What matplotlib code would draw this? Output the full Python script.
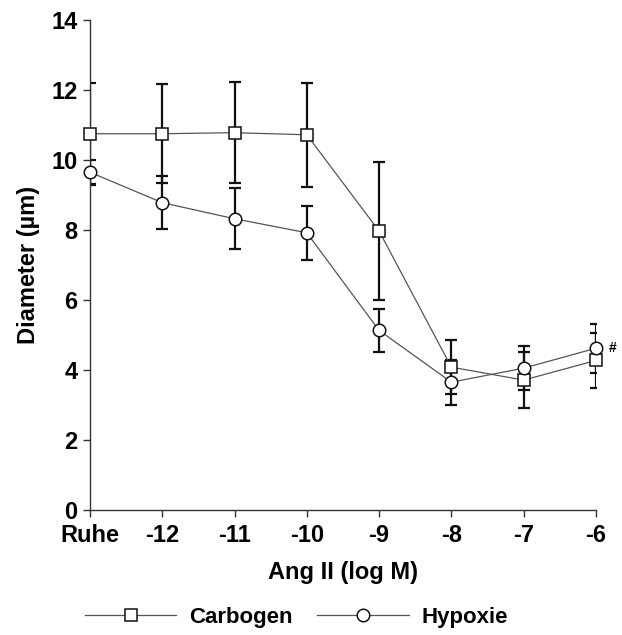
import matplotlib
matplotlib.use("Agg")
import matplotlib.pyplot as plt
from matplotlib.lines import Line2D

plt.rcParams['font.family'] = ['Liberation Sans', 'DejaVu Sans']
plt.rcParams['font.weight'] = 'bold'

# data
labels = ["Ruhe", "-12", "-11", "-10", "-9", "-8", "-7", "-6"]
carbogen = [10.75, 10.75, 10.78, 10.72, 7.97, 4.08, 3.71, 4.27]
carbogen_sd = [1.45, 1.42, 1.45, 1.48, 1.96, 0.78, 0.81, 0.79]
hypoxie = [9.65, 8.78, 8.32, 7.92, 5.13, 3.65, 4.05, 4.62]
hypoxie_sd = [0.36, 0.75, 0.87, 0.77, 0.62, 0.64, 0.62, 0.70]

x = list(range(len(labels)))

fig = plt.figure(figsize=(6.22, 6.35), dpi=100)
ax = fig.add_axes([0.1447, 0.197, 0.8133, 0.7715])

for vals, sd in [(carbogen, carbogen_sd), (hypoxie, hypoxie_sd)]:
    ax.errorbar(x, vals, yerr=sd, fmt='none', ecolor='#111111', elinewidth=1.6,
                capsize=4, capthick=1.6, zorder=2)

ax.plot(x, carbogen, '-', color='#555555', lw=0.9, zorder=3)
ax.plot(x, hypoxie, '-', color='#555555', lw=0.9, zorder=3)
ax.plot(x, carbogen, 's', ms=8.5, mfc='white', mec='#111111', mew=1.1,
        zorder=4, clip_on=False)
ax.plot(x, hypoxie, 'o', ms=9, mfc='white', mec='#111111', mew=1.1,
        zorder=4, clip_on=False)

ax.text(7.18, hypoxie[-1], "#", fontsize=10, ha='left', va='center')

ax.set_xlim(0, 7)
ax.set_ylim(0, 14)
ax.set_xticks(x)
ax.set_xticklabels(labels)
ax.set_yticks(range(0, 15, 2))
for s in ['top', 'right']:
    ax.spines[s].set_visible(False)
for s in ['left', 'bottom']:
    ax.spines[s].set_color('#333333')
    ax.spines[s].set_linewidth(1.0)
ax.tick_params(direction='out', length=5, width=1.0, colors='#333333',
               labelcolor='black', labelsize=17, pad=4)
ax.tick_params(axis='x', pad=5)
ax.set_xlabel("Ang II (log M)", fontsize=17, fontweight='bold', labelpad=10)
ax.set_ylabel("Diameter (µm)", fontsize=17, fontweight='bold', labelpad=8)

handles = [
    Line2D([], [], color='#555555', lw=0.9, marker='s', ms=8.5, mfc='white',
           mec='#111111', mew=1.1),
    Line2D([], [], color='#555555', lw=0.9, marker='o', ms=9, mfc='white',
           mec='#111111', mew=1.1),
]
fig.legend(handles, ["Carbogen", "Hypoxie"], loc='center',
           bbox_to_anchor=(0.477, 0.028), ncol=2, frameon=False,
           handlelength=4.1, columnspacing=1.1, handletextpad=0.6,
           prop={'size': 16, 'weight': 'bold'})

fig.savefig("out.png", dpi=100)
